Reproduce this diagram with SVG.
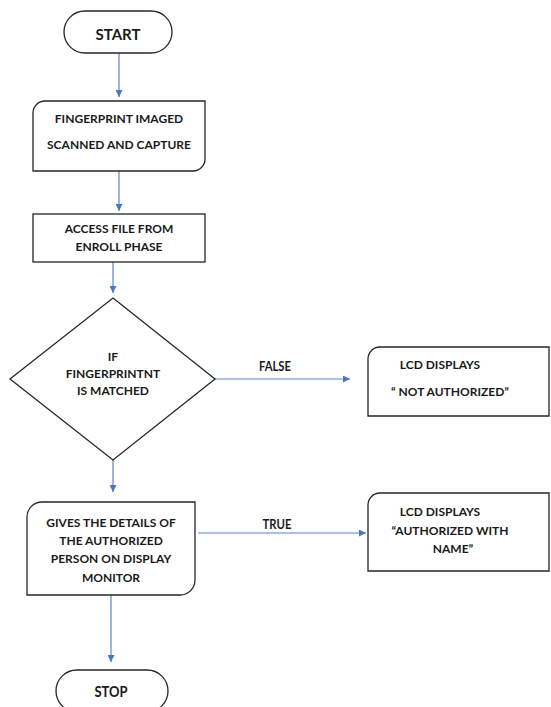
<svg xmlns="http://www.w3.org/2000/svg" width="551" height="707" viewBox="0 0 551 707">
<defs>
<style>
.n{fill:#fff;stroke:#262626;stroke-width:1.3}
.t{font-family:Lato,"Liberation Sans",sans-serif;font-weight:bold;font-size:12px;fill:#1a1a1a;text-anchor:middle}
.b{font-size:15px}
.l{font-size:14px}
.c{fill:none;stroke:#5b84c9;stroke-width:1.2}
</style>
<marker id="ah" viewBox="0 0 10 10" refX="10" refY="5" markerWidth="7" markerHeight="7" markerUnits="userSpaceOnUse" orient="auto">
<path d="M0,0 L10,5 L0,10 Z" fill="#4a76c4"/>
</marker>
</defs>
<rect width="551" height="707" fill="#fff"/>
<g id="connectors">
<line class="c" x1="119" y1="53" x2="119" y2="97" marker-end="url(#ah)"/>
<line class="c" x1="119" y1="171" x2="119" y2="211" marker-end="url(#ah)"/>
<line class="c" x1="113" y1="262" x2="113" y2="293" marker-end="url(#ah)"/>
<line class="c" x1="215" y1="379" x2="350" y2="379" marker-end="url(#ah)"/>
<line class="c" x1="113" y1="460" x2="113" y2="492" marker-end="url(#ah)"/>
<line class="c" x1="198" y1="533" x2="366" y2="533" marker-end="url(#ah)"/>
<line class="c" x1="111" y1="595" x2="111" y2="662" marker-end="url(#ah)"/>
<text class="t l" x="275" y="371" textLength="32" lengthAdjust="spacingAndGlyphs">FALSE</text>
<text class="t l" x="277" y="529" textLength="29" lengthAdjust="spacingAndGlyphs">TRUE</text>
</g>
<g id="start">
<rect class="n" x="64" y="11" width="108" height="42" rx="21"/>
<text class="t b" x="118" y="40">START</text>
</g>
<g id="scan">
<path class="n" d="M45,101 H205 V159 A12,12 0 0 1 193,171 H33 V113 A12,12 0 0 1 45,101 Z"/>
<text class="t" x="119" y="123">FINGERPRINT IMAGED</text>
<text class="t" x="119" y="149">SCANNED AND CAPTURE</text>
</g>
<g id="access">
<rect class="n" x="33" y="214" width="172" height="48"/>
<text class="t" x="119" y="233">ACCESS FILE FROM</text>
<text class="t" x="119" y="251">ENROLL PHASE</text>
</g>
<g id="decision">
<path class="n" d="M113,298 L215,379 L113,460 L10,379 Z"/>
<text class="t" x="113" y="361">IF</text>
<text class="t" x="113" y="378">FINGERPRINTNT</text>
<text class="t" x="113" y="395">IS MATCHED</text>
</g>
<g id="notauth">
<path class="n" d="M380,347 H549 V416 H368 V359 A12,12 0 0 1 380,347 Z"/>
<text class="t" x="440" y="369">LCD DISPLAYS</text>
<text class="t" x="450" y="396">“ NOT AUTHORIZED”</text>
</g>
<g id="details">
<path class="n" d="M42,502 H195 V580 A15,15 0 0 1 180,595 H27 V517 A15,15 0 0 1 42,502 Z"/>
<text class="t" x="111" y="527">GIVES THE DETAILS OF</text>
<text class="t" x="111" y="545">THE AUTHORIZED</text>
<text class="t" x="111" y="563">PERSON ON DISPLAY</text>
<text class="t" x="111" y="582">MONITOR</text>
</g>
<g id="auth">
<path class="n" d="M380,493 H549 V571 H368 V505 A12,12 0 0 1 380,493 Z"/>
<text class="t" x="440" y="516">LCD DISPLAYS</text>
<text class="t" x="450" y="535">“AUTHORIZED WITH</text>
<text class="t" x="453" y="553">NAME”</text>
</g>
<g id="stop">
<rect class="n" x="56" y="670" width="112" height="42" rx="21"/>
<text class="t b" x="111" y="697" textLength="33" lengthAdjust="spacingAndGlyphs">STOP</text>
</g>
</svg>
